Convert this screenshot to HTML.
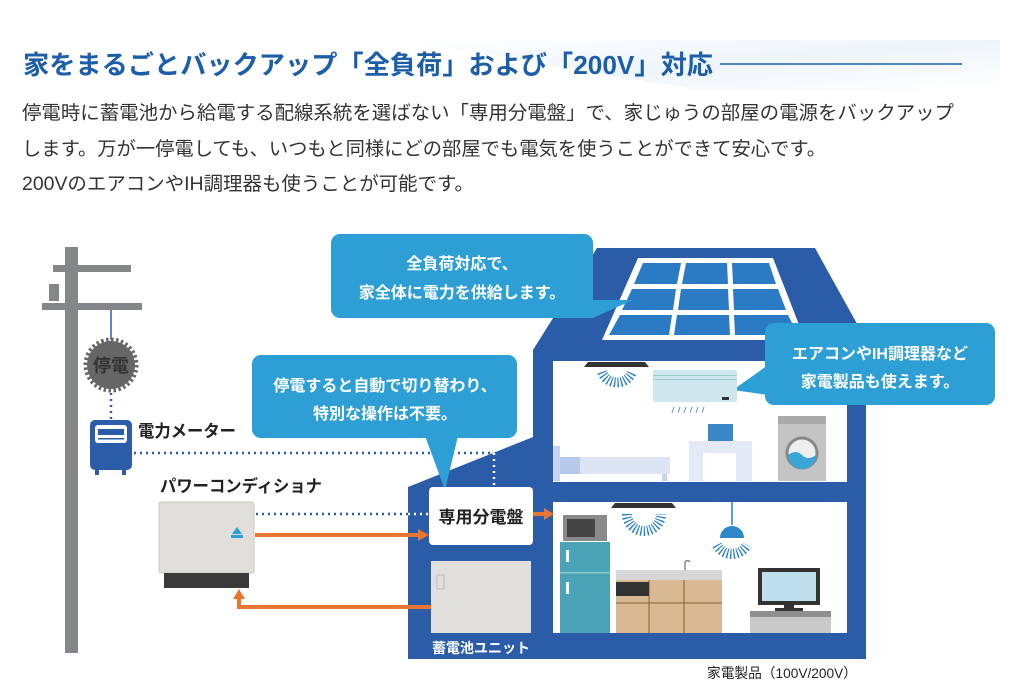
<!DOCTYPE html>
<html><head><meta charset="utf-8"><style>
html,body{margin:0;padding:0;background:#fff;}
svg{display:block;}
text{font-family:"Liberation Sans","Noto Sans CJK JP",sans-serif;}
</style></head><body>
<svg width="1024" height="696" viewBox="0 0 1024 696" xmlns="http://www.w3.org/2000/svg">
<defs>
<linearGradient id="hg" x1="0" y1="0" x2="1" y2="1">
<stop offset="0" stop-color="#ffffff"/><stop offset="0.5" stop-color="#eef5fb"/><stop offset="1" stop-color="#ffffff"/>
</linearGradient>
</defs>
<polygon points="400,40 1000,40 1000,90 700,90" fill="url(#hg)"/>
<text x="23" y="74" font-size="26" font-weight="bold" fill="#1d5ea8" textLength="690" lengthAdjust="spacingAndGlyphs">家をまるごとバックアップ「全負荷」および「200V」対応</text>
<line x1="720" y1="64" x2="962" y2="64" stroke="#1d5ea8" stroke-width="1.5"/>
<text x="22" y="119" font-size="19" fill="#333" textLength="932" lengthAdjust="spacingAndGlyphs">停電時に蓄電池から給電する配線系統を選ばない「専用分電盤」で、家じゅうの部屋の電源をバックアップ</text>
<text x="22" y="155" font-size="19" fill="#333" textLength="804" lengthAdjust="spacingAndGlyphs">します。万が一停電しても、いつもと同様にどの部屋でも電気を使うことができて安心です。</text>
<text x="22" y="190" font-size="19" fill="#333" textLength="452" lengthAdjust="spacingAndGlyphs">200VのエアコンやIH調理器も使うことが可能です。</text>

<!-- pole -->
<rect x="65" y="247" width="13" height="406" fill="#858689"/>
<rect x="53" y="265" width="78" height="7" fill="#858689"/>
<rect x="42" y="303" width="100" height="7" fill="#858689"/>
<rect x="49" y="284" width="10" height="17" fill="#858689"/>
<line x1="111" y1="310" x2="111" y2="340" stroke="#2b5ca8" stroke-width="1.5"/>
<circle cx="111" cy="365" r="24" fill="#666"/>
<circle cx="111" cy="365" r="25.5" fill="none" stroke="#666" stroke-width="4" stroke-dasharray="2.5 2.5"/>
<text x="111" y="372" font-size="18" font-weight="bold" fill="#333" text-anchor="middle">停電</text>
<line x1="111" y1="393" x2="111" y2="419" stroke="#2b5ca8" stroke-width="2.5" stroke-dasharray="2 4"/>
<!-- meter -->
<rect x="90" y="420" width="42" height="50" rx="5" fill="#2b5ca8"/>
<rect x="95" y="425" width="32" height="18" rx="3" fill="#fff"/>
<rect x="98" y="429" width="26" height="6" fill="#2b5ca8"/>
<rect x="98" y="438" width="26" height="1.5" fill="#2b5ca8"/>
<rect x="95" y="470" width="4" height="5" fill="#2b5ca8"/><rect x="122" y="470" width="4" height="5" fill="#2b5ca8"/>
<text x="138" y="437" font-size="17" font-weight="bold" fill="#222" textLength="98" lengthAdjust="spacingAndGlyphs">電力メーター</text>

<text x="160" y="492" font-size="17" font-weight="bold" fill="#222" textLength="162" lengthAdjust="spacingAndGlyphs">パワーコンディショナ</text>
<!-- PCS -->
<rect x="159" y="502" width="95" height="71" rx="2" fill="#e0dfda" stroke="#c9c8c3"/>
<rect x="164" y="573" width="85" height="15" fill="#3a3a3a"/>
<polygon points="237,527 242,534 232,534" fill="#2e9fd4"/>
<rect x="231" y="535" width="12" height="3" fill="#2e9fd4"/>

<!-- house -->
<polygon points="408,487 533,437 533,350 597,248 815,248 866,340 866,659 408,659" fill="#2b5ca8"/>
<rect x="553" y="361" width="294" height="121" fill="#fff"/>
<rect x="553" y="502" width="294" height="131" fill="#fff"/>

<!-- connectors (over house) -->
<line x1="134" y1="453" x2="494" y2="453" stroke="#2b5ca8" stroke-width="2.5" stroke-dasharray="2 4"/>
<line x1="494" y1="453" x2="494" y2="486" stroke="#fff" stroke-width="2.5" stroke-dasharray="2 4"/>
<line x1="256" y1="514" x2="430" y2="514" stroke="#2b5ca8" stroke-width="2.5" stroke-dasharray="2 4"/>
<line x1="408" y1="514" x2="430" y2="514" stroke="#fff" stroke-width="2.5" stroke-dasharray="2 4"/>
<line x1="255" y1="535" x2="420" y2="535" stroke="#e87530" stroke-width="4"/>
<polygon points="429,535 418,529 418,541" fill="#e87530"/>
<polyline points="432,607 239,607 239,598" fill="none" stroke="#e87530" stroke-width="4"/>
<polygon points="239,589 233,599 245,599" fill="#e87530"/>

<!-- solar panel -->
<polygon points="638,258 773,258 805,340 602,340" fill="#fff"/>
<g fill="#2a7bc4">
<polygon points="643,263 681,263 677,284 634,284"/>
<polygon points="686,263 727,263 728,284 682,284"/>
<polygon points="732,263 769,263 776,284 733,284"/>
<polygon points="632,289 676,289 673,310 622,310"/>
<polygon points="681,289 728,289 729,310 678,310"/>
<polygon points="733,289 778,289 786,310 734,310"/>
<polygon points="620,315 672,315 669,335 609,335"/>
<polygon points="677,315 729,315 730,335 674,335"/>
<polygon points="734,315 788,315 798,335 735,335"/>
</g>

<!-- callouts -->
<g fill="#2e9fd4">
<rect x="331" y="234" width="262" height="84" rx="9"/>
<polygon points="560,280 590,300 633,300 593,318 575,318"/>
<rect x="252" y="355" width="265" height="83" rx="9"/>
<polygon points="425,436 458,436 445,490"/>
<rect x="765" y="323" width="230" height="82" rx="9"/>
<polygon points="768,365 768,395 733,390"/>
</g>
<g font-size="16" font-weight="bold" fill="#fff" text-anchor="middle">
<text x="462" y="269">全負荷対応で、</text>
<text x="462" y="298">家全体に電力を供給します。</text>
<text x="385" y="391">停電すると自動で切り替わり、</text>
<text x="385" y="419">特別な操作は不要。</text>
<text x="880" y="359">エアコンやIH調理器など</text>
<text x="880" y="387">家電製品も使えます。</text>
</g>

<!-- panel board -->
<rect x="429" y="487" width="104" height="58" rx="4" fill="#fff"/>
<text x="481" y="523" font-size="17" font-weight="bold" fill="#222" text-anchor="middle">専用分電盤</text>
<line x1="533" y1="514" x2="546" y2="514" stroke="#e87530" stroke-width="4"/>
<polygon points="554,514 544,508 544,520" fill="#e87530"/>
<!-- battery -->
<rect x="431" y="561" width="100" height="72" fill="#e0dfda"/>
<rect x="437" y="575" width="7" height="14" rx="1" fill="none" stroke="#bbb"/>
<text x="481" y="653" font-size="14" font-weight="bold" fill="#fff" text-anchor="middle">蓄電池ユニット</text>

<!-- upper room -->
<path d="M584,367 L588,362 L645,362 L649,367 Z" fill="#333"/>
<path d="M602,372 A16,16 0 0 0 632,372" fill="none" stroke="#2b7fc4" stroke-width="10" stroke-dasharray="1.3 2"/>
<rect x="653" y="370" width="84" height="32" rx="2" fill="#cfe6ee"/>
<rect x="653" y="375" width="84" height="1" fill="#9cc"/><rect x="653" y="379" width="84" height="1" fill="#9cc"/>
<rect x="722" y="397" width="7" height="3" fill="#333"/>
<path d="M674,407 l-2,6 M680,407 l-2,6 M686,407 l-2,6 M692,407 l-2,6 M698,407 l-2,6 M704,407 l-2,6" stroke="#69a" stroke-width="1"/>
<rect x="553" y="446" width="7" height="35" fill="#c5d3ee"/>
<rect x="560" y="457" width="110" height="17" fill="#dde5f4"/>
<rect x="560" y="457" width="20" height="17" fill="#b7c9ea"/>
<rect x="662" y="474" width="5" height="7" fill="#c5d3ee"/>
<rect x="689" y="441" width="63" height="40" fill="#e3eaf6"/>
<rect x="703" y="453" width="33" height="28" fill="#fff"/>
<rect x="708" y="424" width="25" height="17" fill="#3a87c8"/>
<rect x="778" y="416" width="48" height="65" fill="#c4c4c4"/>
<rect x="778" y="416" width="48" height="8" fill="#aaa"/>
<circle cx="802" cy="453" r="15" fill="#eee" stroke="#888" stroke-width="3"/>
<path d="M788,455 Q796,449 802,455 T816,455 A14,14 0 0 1 788,455 Z" fill="#3aa6d8"/>
<!-- lower room -->
<path d="M611,508 L615,503 L672,503 L676,508 Z" fill="#333"/>
<path d="M627,514 A17,17 0 0 0 661,514" fill="none" stroke="#2b7fc4" stroke-width="10" stroke-dasharray="1.3 2"/>
<line x1="732" y1="502" x2="732" y2="525" stroke="#2b7fc4" stroke-width="1.5"/>
<path d="M720,538 A12,12 0 0 1 744,538 Z" fill="#2e87c8"/>
<path d="M717,545 A17,17 0 0 0 747,545" fill="none" stroke="#2b7fc4" stroke-width="10" stroke-dasharray="1.3 2"/>
<rect x="563" y="515" width="44" height="26" fill="#8a8a8a"/>
<rect x="567" y="519" width="28" height="18" fill="#444"/>
<rect x="560" y="542" width="50" height="91" fill="#4ba3b8"/>
<rect x="560" y="572" width="50" height="1.5" fill="#8cc"/>
<rect x="566" y="550" width="3" height="12" fill="#fff"/><rect x="566" y="582" width="3" height="12" fill="#fff"/>
<rect x="616" y="570" width="106" height="10" fill="#d6d6d6"/>
<rect x="616" y="580" width="106" height="53" fill="#d9b994"/>
<path d="M649,580 V633 M684,580 V633 M616,603 H722" stroke="#8a5a30" stroke-width="1"/>
<rect x="616" y="582" width="33" height="14" fill="#333"/>
<path d="M685,570 v-8 a3,3 0 0 1 5,0" fill="none" stroke="#888" stroke-width="1.5"/>
<rect x="758" y="568" width="62" height="37" fill="#333"/>
<rect x="762" y="572" width="54" height="29" fill="#bde0ec"/>
<rect x="784" y="605" width="10" height="4" fill="#333"/>
<rect x="775" y="608" width="28" height="3" fill="#333"/>
<rect x="750" y="611" width="81" height="22" fill="#c9c9c9"/>
<rect x="750" y="611" width="81" height="6" fill="#8f8f8f"/>

<text x="707" y="678" font-size="14" fill="#222" textLength="150" lengthAdjust="spacingAndGlyphs">家電製品（100V/200V）</text>
</svg>
</body></html>
